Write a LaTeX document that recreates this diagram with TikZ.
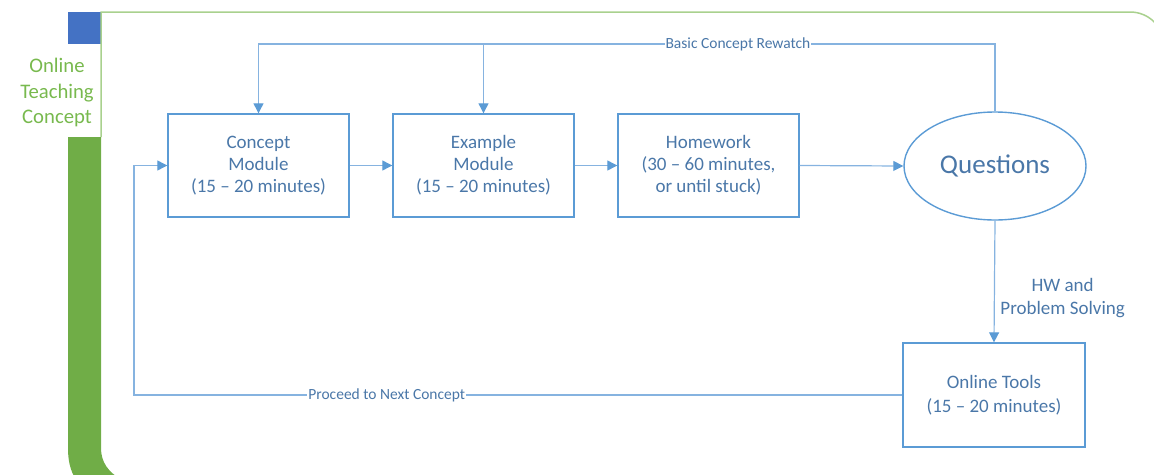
\documentclass[tikz,border=0pt]{standalone}
\usepackage{fontspec}
\setmainfont{Carlito}
\usetikzlibrary{arrows.meta,shapes.geometric}
\definecolor{framegreen}{HTML}{70AD47}
\definecolor{lightgreen}{HTML}{A9D18E}
\definecolor{titlegreen}{HTML}{78B94E}
\definecolor{accentblue}{HTML}{4472C4}
\definecolor{boxblue}{HTML}{5B9BD5}
\definecolor{linkblue}{HTML}{86B3E0}
\definecolor{textblue}{HTML}{4A77A8}
\tikzset{
  stepbox/.style={draw=boxblue, line width=1.4pt, minimum width=181pt, minimum height=103pt,
    align=center, text=textblue, font=\fontsize{19}{22}\selectfont, inner sep=0pt},
  askbox/.style={ellipse, draw=boxblue, line width=1.4pt, minimum width=182pt, minimum height=108pt,
    text=textblue, font=\fontsize{27}{30}\selectfont, inner sep=0pt},
  link/.style={draw=linkblue, line width=1.2pt},
  flow/.style={link, -{Triangle[length=10pt,width=10pt,fill=boxblue,color=boxblue]}},
  linklabel/.style={fill=white, text=textblue, font=\fontsize{15.5}{18}\selectfont, inner sep=1pt},
}
\begin{document}
\begin{tikzpicture}[x=1pt,y=-1pt]
\useasboundingbox (0,0) rectangle (1154,474);

% bracket frame
\fill[accentblue] (68,12) rectangle (101,44);
\draw[lightgreen, line width=1.5pt] (101,137) -- (101,12) -- (1130,12)
  .. controls (1149,12) and (1164,27) .. (1164,46);
\fill[framegreen] (68,137) -- (101,137) -- (101,448)
  .. controls (101,462) and (108,472) .. (122,480) -- (76,480)
  .. controls (70,470) and (68,460) .. (68,448) -- cycle;
\node[align=center, text=titlegreen, font=\fontsize{20.7}{25.5}\selectfont] (title) at (57,92.5)
  {Online\\Teaching\\Concept};

% process steps
\node[stepbox] (concept)  at (258.5,165.5) {Concept\\Module\\(15 – 20 minutes)};
\node[stepbox] (example)  at (483.5,165.5) {Example\\Module\\(15 – 20 minutes)};
\node[stepbox] (homework) at (708.5,165.5) {Homework\\(30 – 60 minutes,\\or until stuck)};
\node[askbox]  (questions) at (995,166) {Questions};
\node[stepbox, minimum width=182pt, minimum height=104pt, font=\fontsize{19}{24}\selectfont]
  (online) at (994,395) {Online Tools\\(15 – 20 minutes)};

% turning points
\coordinate (topright) at (995,44);
\coordinate (topleft) at (258.5,44);
\coordinate (leftturn) at (134,395);

% connectors
\draw[flow] (concept.east) -- (example.west);
\draw[flow] (example.east) -- (homework.west);
\draw[flow] (homework.east) -- (questions.west);
\draw[flow] (questions.south) -- node[right, align=center, text=textblue,
  font=\fontsize{19}{23}\selectfont, xshift=2pt, yshift=-17pt] {HW and\\Problem Solving} (online.north);
\draw[flow] (online.west) -- node[linklabel, pos=0.671] {Proceed to Next Concept} (leftturn)
  |- (concept.west);
\draw[flow] (questions.north) -- (topright)
  -- node[linklabel, pos=0.349] {Basic Concept Rewatch} (topleft) -- (concept.north);
\draw[flow] (example.north |- topleft) -- (example.north);
\end{tikzpicture}
\end{document}
